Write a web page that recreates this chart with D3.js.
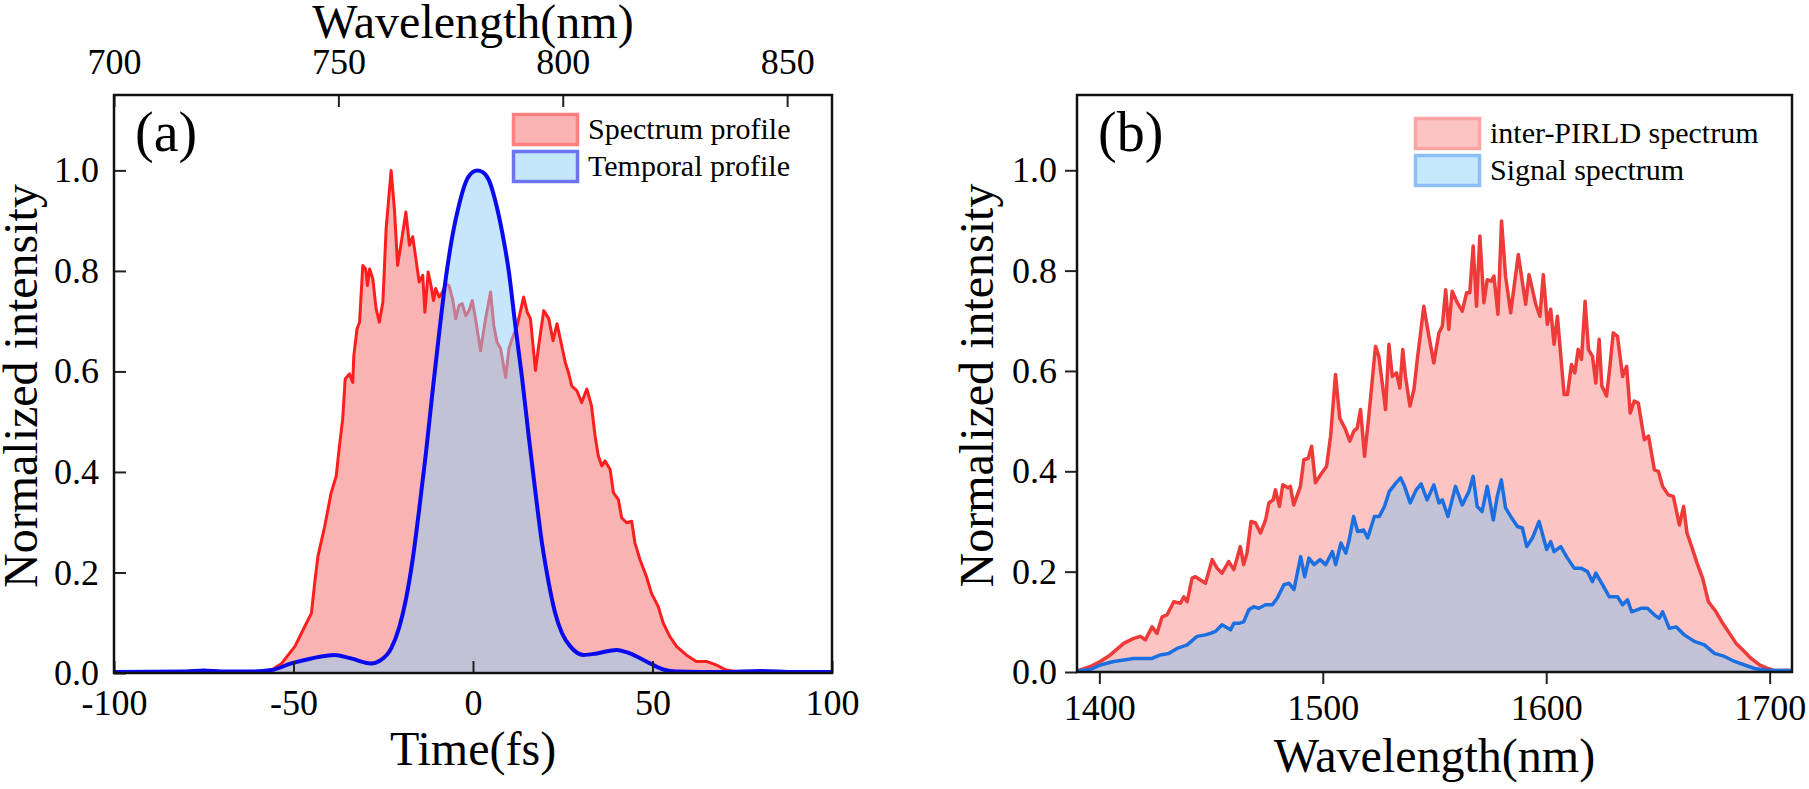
<!DOCTYPE html>
<html>
<head>
<meta charset="utf-8">
<script src="https://cdn.jsdelivr.net/npm/d3@7"></script>
<style>
  html, body { margin: 0; padding: 0; background: #fff; }
  svg { display: block; }
  text { font-family: "Liberation Serif", "Times New Roman", serif; fill: #000; }
</style>
</head>
<body>
<svg id="chart" width="1809" height="789"></svg>
<script>
// ---------------- DATA ----------------
// Panel (a): time axis ticks, top wavelength ticks, y ticks
const timeTicks = [-100, -50, 0, 50, 100];
const topWlTicks = [700, 750, 800, 850];
const yTicks = [0, 0.2, 0.4, 0.6, 0.8, 1.0];
const wlTicksB = [1400, 1500, 1600, 1700];

// Spectrum profile (red), [time fs, normalized intensity]
const spectrumProfile = [[-100,0.002],[-80,0.002],[-65,0.002],[-58,0.003],[-56.1,0.006],[-53.3,0.019],[-49.6,0.053],[-46.9,0.092],[-45,0.119],[-44.1,0.179],[-43.2,0.232],[-41.3,0.292],[-39.5,0.359],[-38.1,0.392],[-37.2,0.452],[-36.3,0.505],[-35.6,0.585],[-34.4,0.595],[-33.5,0.578],[-33.2,0.631],[-32.3,0.685],[-31.6,0.698],[-30.7,0.811],[-29.9,0.804],[-29.4,0.771],[-28.8,0.804],[-27.9,0.784],[-27,0.725],[-26.1,0.698],[-25.1,0.738],[-24.2,0.884],[-22.8,1.0],[-21.9,0.924],[-21,0.811],[-20.1,0.851],[-18.7,0.917],[-17.7,0.851],[-16.8,0.868],[-15.9,0.824],[-15,0.778],[-14,0.791],[-13.4,0.718],[-12.5,0.798],[-11.7,0.771],[-11,0.741],[-10.4,0.765],[-9.4,0.748],[-8.5,0.758],[-7.6,0.774],[-6.7,0.771],[-5.7,0.745],[-4.8,0.705],[-3.9,0.731],[-3,0.735],[-2,0.711],[-1.1,0.721],[-0.2,0.741],[0.7,0.705],[2.1,0.641],[3.5,0.705],[4.9,0.758],[5.8,0.691],[6.7,0.658],[7.7,0.645],[9.1,0.588],[10,0.645],[10.9,0.665],[12.3,0.691],[14.1,0.748],[15.1,0.718],[16,0.705],[17.4,0.602],[18.3,0.651],[19.7,0.721],[21.1,0.705],[22.3,0.661],[23.4,0.695],[24.3,0.665],[25.7,0.618],[26.6,0.598],[27.5,0.571],[28.9,0.562],[30.3,0.538],[31.7,0.565],[33,0.532],[34,0.472],[34.9,0.432],[35.9,0.412],[36.8,0.422],[38.2,0.405],[39.1,0.359],[40.5,0.345],[41.4,0.309],[42.8,0.299],[44.2,0.302],[45.1,0.259],[46.5,0.226],[48.3,0.192],[49.7,0.159],[51.6,0.132],[53,0.099],[54.8,0.073],[56.7,0.053],[59.4,0.036],[62.2,0.023],[65,0.023],[67.7,0.016],[70.5,0.006],[73.3,0.003],[85,0.002],[100,0.002]];

// Temporal profile (blue), [time fs, normalized intensity]
const temporalProfile = [[-100,0.002],[-80,0.003],[-75,0.005],[-70,0.003],[-62,0.003],[-56.1,0.006],[-50.6,0.019],[-45,0.029],[-38.6,0.036],[-34,0.029],[-28.4,0.019],[-25.6,0.026],[-22.8,0.049],[-20.5,0.092],[-18.7,0.146],[-16.8,0.226],[-15,0.325],[-13.1,0.438],[-11.3,0.558],[-9.4,0.678],[-7.6,0.784],[-5.7,0.871],[-3.9,0.931],[-2,0.977],[0,0.997],[1.2,1.0],[2.6,0.997],[4.4,0.981],[6.3,0.937],[8.1,0.878],[10,0.798],[11.8,0.691],[13.7,0.585],[15.5,0.472],[17.4,0.359],[19.2,0.259],[21.1,0.179],[22.9,0.119],[24.8,0.079],[27.1,0.053],[30.8,0.036],[34.5,0.039],[40,0.046],[43.7,0.039],[48.3,0.023],[53,0.007],[56.7,0.003],[70,0.002],[80,0.004],[90,0.002],[100,0.002]];

// Panel (b): inter-PIRLD spectrum (red), [wavelength nm, normalized intensity]
const interPirldSpectrum = [[1390,0.003],[1391.5,0.004],[1396,0.011],[1400.4,0.021],[1404.9,0.034],[1410.9,0.057],[1415.4,0.067],[1418.4,0.071],[1420.6,0.064],[1423.6,0.09],[1425.8,0.077],[1428.1,0.11],[1430.3,0.114],[1433.3,0.14],[1436.3,0.137],[1437.8,0.15],[1439.3,0.14],[1441.5,0.187],[1443,0.19],[1447.5,0.177],[1450.5,0.224],[1452.7,0.207],[1454.9,0.197],[1457.9,0.22],[1460.2,0.204],[1463.1,0.25],[1464.6,0.214],[1466.1,0.237],[1467.9,0.3],[1469.9,0.297],[1472.1,0.277],[1474.4,0.303],[1475.9,0.337],[1477.8,0.343],[1478.8,0.363],[1480.6,0.33],[1482.1,0.373],[1484.4,0.367],[1485.5,0.37],[1487,0.333],[1490,0.37],[1491.5,0.423],[1493.5,0.426],[1495,0.45],[1496.7,0.377],[1499,0.393],[1501.7,0.41],[1503.5,0.47],[1505.7,0.593],[1507.6,0.506],[1510.2,0.483],[1512.1,0.46],[1513.9,0.48],[1515.4,0.486],[1516.9,0.523],[1518.7,0.43],[1520.6,0.51],[1523.6,0.649],[1525.1,0.629],[1528.1,0.523],[1529.6,0.653],[1531.1,0.589],[1533,0.596],[1534.5,0.566],[1535.8,0.643],[1537,0.589],[1539,0.53],[1540.8,0.563],[1542.3,0.623],[1543.8,0.676],[1545.2,0.729],[1547.5,0.669],[1549.7,0.616],[1552,0.676],[1553.5,0.689],[1555,0.762],[1556.4,0.683],[1557.9,0.759],[1560.2,0.736],[1562.4,0.719],[1564.4,0.756],[1565.8,0.756],[1567.3,0.849],[1568.8,0.729],[1570.3,0.869],[1572.1,0.736],[1573.6,0.782],[1575.4,0.779],[1576.6,0.789],[1578.4,0.713],[1580,0.899],[1581.8,0.789],[1584.1,0.716],[1587.5,0.832],[1590.8,0.733],[1592.3,0.792],[1595.3,0.733],[1597.2,0.709],[1598.7,0.792],[1600.5,0.693],[1602,0.723],[1603.5,0.653],[1605,0.709],[1608,0.553],[1609.5,0.553],[1611.3,0.613],[1612.8,0.596],[1614.3,0.643],[1615.8,0.623],[1617.4,0.739],[1618.9,0.643],[1620.7,0.629],[1622.2,0.576],[1623.7,0.663],[1624.9,0.57],[1627,0.55],[1628.5,0.609],[1630,0.676],[1631.9,0.669],[1634.2,0.589],[1636,0.609],[1637.6,0.516],[1639.4,0.54],[1641.2,0.536],[1643.9,0.463],[1645.8,0.47],[1648.4,0.403],[1650.2,0.4],[1652.1,0.37],[1654.6,0.353],[1656.9,0.35],[1659.6,0.293],[1661.5,0.33],[1663,0.277],[1665.1,0.25],[1667.5,0.217],[1670,0.187],[1672.6,0.14],[1676,0.12],[1679,0.097],[1682,0.077],[1685,0.057],[1688,0.044],[1691.7,0.027],[1695.5,0.014],[1699.2,0.007],[1702,0.003],[1710,0.003]];

// Panel (b): Signal spectrum (blue), [wavelength nm, normalized intensity]
const signalSpectrum = [[1390,0.003],[1391.5,0.003],[1396,0.005],[1400.4,0.014],[1406.4,0.021],[1410.9,0.024],[1415.4,0.027],[1423.6,0.027],[1427.3,0.034],[1431,0.037],[1434.8,0.047],[1439.3,0.054],[1443.7,0.071],[1447.5,0.074],[1449.7,0.077],[1452,0.081],[1454.9,0.094],[1458.7,0.084],[1460.2,0.097],[1462.4,0.097],[1464.6,0.1],[1466.9,0.124],[1469.1,0.13],[1471.4,0.127],[1474.4,0.134],[1477.4,0.134],[1479.6,0.147],[1482.6,0.174],[1484.9,0.177],[1487.1,0.164],[1490.1,0.23],[1491.9,0.19],[1493.8,0.227],[1496.1,0.214],[1498.8,0.224],[1501.3,0.214],[1504.3,0.24],[1505.8,0.214],[1508.1,0.257],[1510.3,0.237],[1511.8,0.263],[1513.8,0.31],[1515.6,0.28],[1518.3,0.283],[1520.1,0.267],[1523.1,0.31],[1525.3,0.31],[1527.6,0.33],[1529.8,0.36],[1532.8,0.377],[1534.8,0.387],[1536.6,0.37],[1539.1,0.337],[1541.8,0.363],[1544,0.375],[1546.7,0.343],[1549.7,0.373],[1552,0.337],[1553.5,0.343],[1556,0.31],[1559.4,0.37],[1562.4,0.333],[1565.4,0.36],[1567.3,0.39],[1569.1,0.33],[1571.3,0.32],[1573.6,0.37],[1576.3,0.303],[1578.1,0.35],[1579.9,0.383],[1581.8,0.327],[1584.1,0.31],[1587.1,0.29],[1589.3,0.287],[1591.3,0.25],[1593.8,0.267],[1596.8,0.3],[1600.2,0.244],[1602,0.26],[1603.5,0.24],[1606.5,0.25],[1609.5,0.227],[1612.5,0.207],[1615.5,0.207],[1618.5,0.2],[1620.7,0.18],[1622.2,0.197],[1625.2,0.174],[1628.2,0.15],[1631.9,0.15],[1634.2,0.134],[1636.4,0.144],[1638.2,0.12],[1642.4,0.127],[1645.3,0.127],[1648.4,0.114],[1650.6,0.107],[1652.1,0.12],[1655.1,0.087],[1658.1,0.09],[1661.8,0.074],[1666.3,0.061],[1670.8,0.054],[1675.3,0.037],[1679.8,0.031],[1684.3,0.021],[1688.8,0.014],[1693.2,0.007],[1697.7,0.004],[1702,0.003],[1710,0.003]];

const legendA = ["Spectrum profile", "Temporal profile"];
const legendB = ["inter-PIRLD spectrum", "Signal spectrum"];

// ---------------- DRAW ----------------
const svg = d3.select("#chart");
const TICK_FONT = 36, TITLE_FONT = 48;
const intFmt = d => (d < 0 ? "-" + Math.abs(d) : String(d));

function panel(opts) {
  const g = svg.append("g");
  const x = d3.scaleLinear().domain(opts.xDomain).range([opts.left, opts.right]);
  const y = d3.scaleLinear().domain([0, 1.15]).range([opts.bottom, opts.top]);

  const clipId = "clip-" + opts.id;
  svg.append("defs").append("clipPath").attr("id", clipId)
    .append("rect").attr("x", opts.left).attr("y", opts.top)
    .attr("width", opts.right - opts.left).attr("height", opts.bottom - opts.top);

  const plot = g.append("g").attr("clip-path", `url(#${clipId})`);
  const area = d3.area().x(d => x(d[0])).y0(y(0)).y1(d => y(d[1]));
  const line = d3.line().x(d => x(d[0])).y(d => y(d[1]));

  plot.append("path").datum(opts.red).attr("d", area.curve(d3.curveLinear)).attr("fill", opts.redFill);
  plot.append("path").datum(opts.red).attr("d", line.curve(d3.curveLinear)).attr("fill", "none")
    .attr("stroke", opts.redLine).attr("stroke-width", opts.redWidth).attr("stroke-linejoin", "round");
  const bc = opts.blueSmooth ? d3.curveMonotoneX : d3.curveLinear;
  plot.append("path").datum(opts.blue).attr("d", area.curve(bc)).attr("fill", opts.blueFill);
  plot.append("path").datum(opts.blue).attr("d", line.curve(bc)).attr("fill", "none")
    .attr("stroke", opts.blueLine).attr("stroke-width", opts.blueWidth).attr("stroke-linejoin", "round");

  // axes
  const inner = opts.inward ? -12 : 12;
  const styleAxis = sel => {
    sel.attr("font-family", null);
    sel.select(".domain").remove();
    sel.selectAll(".tick line").attr("stroke", "#222").attr("stroke-width", 2);
    sel.selectAll(".tick text").attr("font-size", TICK_FONT).attr("fill", "#000");
  };
  g.append("g").attr("transform", `translate(0,${opts.bottom})`)
    .call(d3.axisBottom(x).tickValues(opts.xTicks).tickFormat(intFmt)
      .tickSizeInner(inner).tickSizeOuter(0).tickPadding(opts.xPad))
    .call(styleAxis);
  g.append("g").attr("transform", `translate(${opts.left},0)`)
    .call(d3.axisLeft(y).tickValues(yTicks).tickFormat(d3.format(".1f"))
      .tickSizeInner(inner).tickSizeOuter(0).tickPadding(opts.yPad))
    .call(styleAxis);

  if (opts.topTicks) {
    const xt = d3.scaleLinear().domain([700, 860]).range([opts.left, opts.right]);
    g.append("g").attr("transform", `translate(0,${opts.top})`)
      .call(d3.axisTop(xt).tickValues(opts.topTicks).tickFormat(intFmt)
        .tickSizeInner(-12).tickSizeOuter(0).tickPadding(21))
      .call(styleAxis);
    g.append("text").attr("x", (opts.left + opts.right) / 2).attr("y", 38)
      .attr("text-anchor", "middle").attr("font-size", TITLE_FONT).text("Wavelength(nm)");
  }

  // frame
  g.append("rect").attr("x", opts.left).attr("y", opts.top)
    .attr("width", opts.right - opts.left).attr("height", opts.bottom - opts.top)
    .attr("fill", "none").attr("stroke", "#111").attr("stroke-width", 2.5);

  // titles
  g.append("text").attr("x", (opts.left + opts.right) / 2).attr("y", opts.xTitleY)
    .attr("text-anchor", "middle").attr("font-size", TITLE_FONT).text(opts.xTitle);
  g.append("text").attr("transform", `translate(${opts.yTitleX},${(opts.top + opts.bottom) / 2 + 2}) rotate(-90)`)
    .attr("text-anchor", "middle").attr("font-size", TITLE_FONT).text("Normalized intensity");
  g.append("text").attr("x", opts.left + 21).attr("y", 151).attr("font-size", 56).text(opts.tag);

  // legend
  opts.legend.forEach((name, i) => {
    const ly = opts.legY + i * opts.legStep;
    g.append("rect").attr("x", opts.legX + 1.5).attr("y", ly + 1.5).attr("width", 64).attr("height", 30)
      .attr("fill", opts.legFill[i]).attr("stroke", opts.legStroke[i]).attr("stroke-width", 3.5);
    g.append("text").attr("x", opts.legX + 76).attr("y", ly + 25.5).attr("font-size", 30).text(name);
  });
}

panel({
  id: "a", left: 114, right: 832, top: 95, bottom: 673,
  xDomain: [-100, 100], xTicks: timeTicks, topTicks: topWlTicks,
  inward: true, xPad: 16, yPad: 15,
  red: spectrumProfile, blue: temporalProfile, blueSmooth: true,
  redFill: "#f9b3b3", redLine: "#ff1e1e", redWidth: 3,
  blueFill: "rgba(143,207,247,0.52)", blueLine: "#0a0aee", blueWidth: 4,
  xTitle: "Time(fs)", xTitleY: 765, yTitleX: 37, tag: "(a)",
  legend: legendA, legX: 512, legY: 113, legStep: 37,
  legFill: ["#fab3b3", "#c5e7fc"], legStroke: ["#ff8080", "#6c74f3"]
});

panel({
  id: "b", left: 1077, right: 1792, top: 95, bottom: 672,
  xDomain: [1390, 1710], xTicks: wlTicksB, topTicks: null,
  inward: false, xPad: 10, yPad: 8,
  red: interPirldSpectrum, blue: signalSpectrum, blueSmooth: false,
  redFill: "#fdc4c4", redLine: "#ef3a3a", redWidth: 3.5,
  blueFill: "rgba(94,191,249,0.36)", blueLine: "#1b6fe0", blueWidth: 3.5,
  xTitle: "Wavelength(nm)", xTitleY: 772, yTitleX: 993, tag: "(b)",
  legend: legendB, legX: 1414, legY: 117, legStep: 37,
  legFill: ["#fdc4c4", "#c6e8fd"], legStroke: ["#ffa3a3", "#8cbff5"]
});
</script>
</body>
</html>
